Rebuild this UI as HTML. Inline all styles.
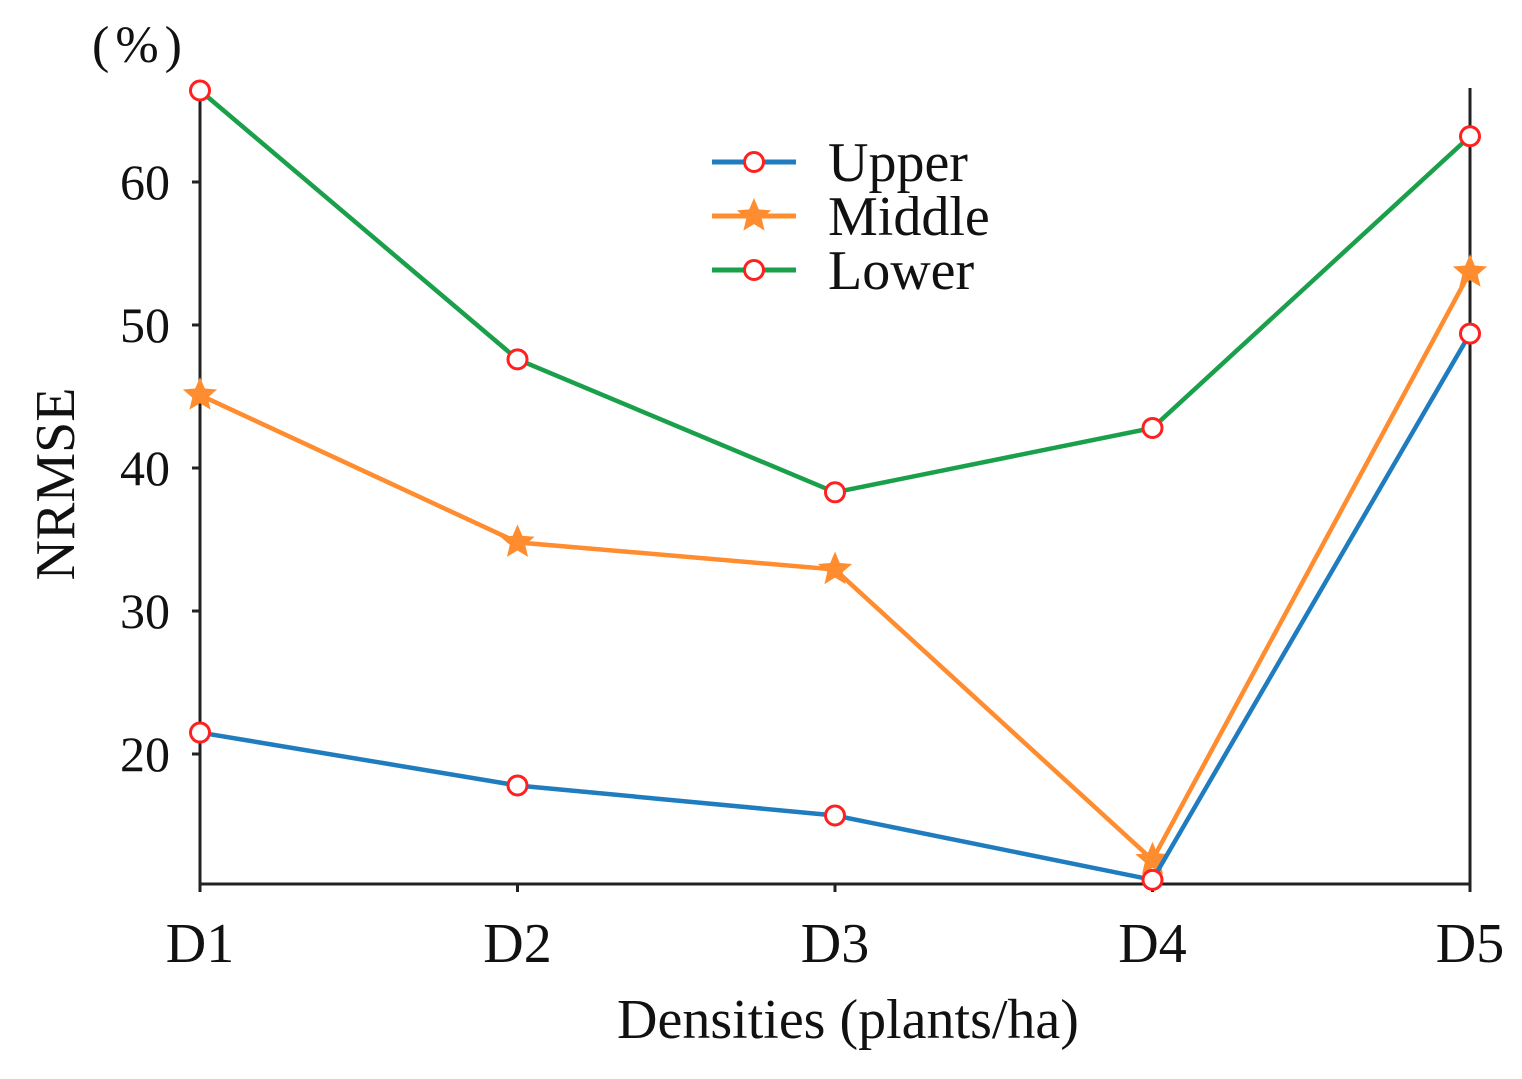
<!DOCTYPE html>
<html><head><meta charset="utf-8"><style>
html,body{margin:0;padding:0;background:#fff;}
svg{display:block;font-family:"Liberation Serif",serif;}
</style></head><body>
<svg id="chart" width="1522" height="1079" viewBox="0 0 1522 1079">
<g id="axes"></g><g id="series"></g><g id="legend"></g>
</svg>
<script>
const categories = ["D1","D2","D3","D4","D5"];
const upper = [21.5, 17.8, 15.7, 11.2, 49.4];
const middle = [45.1, 34.8, 32.9, 12.6, 53.7];
const lower = [66.4, 47.6, 38.3, 42.8, 63.2];
const yTicks = [20, 30, 40, 50, 60];
const seriesNames = ["Upper","Middle","Lower"];

const NS = "http://www.w3.org/2000/svg";
const X0 = 200, X1 = 1470, YTOP = 88, YBOT = 884;
function xPos(i){ return X0 + i * (X1 - X0) / (categories.length - 1); }
function yPos(v){ return 182 + (60 - v) * 14.3; }
function mk(tag, attrs, parent){ const e = document.createElementNS(NS, tag); for (const k in attrs) e.setAttribute(k, attrs[k]); parent.appendChild(e); return e; }

const axes = document.getElementById("axes");
const spine = mk("path", {d:`M${X0},${YTOP} V${YBOT} H${X1} V${YTOP}`, fill:"none", stroke:"#222", "stroke-width":3}, axes);


yTicks.forEach(v => {
  const y = yPos(v);
  const t = mk("line", {x1:X0-8, x2:X0, y1:y, y2:y, stroke:"#222", "stroke-width":3}, axes);
  
  
  const l = mk("text", {x:X0-30, y:y+17, "text-anchor":"end", "font-size":50, fill:"#111"}, axes);
  l.textContent = v;
  
  
});
categories.forEach((c, i) => {
  const x = xPos(i);
  const t = mk("line", {x1:x, x2:x, y1:YBOT, y2:YBOT+8, stroke:"#222", "stroke-width":3}, axes);
  
  
  const l = mk("text", {x:x, y:962, "text-anchor":"middle", "font-size":56, fill:"#111"}, axes);
  l.textContent = c;
  
  
});
const xt = mk("text", {x:848, y:1038, "text-anchor":"middle", "font-size":56, fill:"#111"}, axes);
xt.textContent = "Densities (plants/ha)";


const yt = mk("text", {x:0, y:0, transform:"translate(74,484) rotate(-90)", "text-anchor":"middle", "font-size":56, fill:"#111"}, axes);
yt.textContent = "NRMSE";


const un = mk("text", {x:92, y:62, "font-size":52, "letter-spacing":6, fill:"#111"}, axes);
un.textContent = "(%)";



function star(cx, cy, r){
  let p = [];
  for (let k = 0; k < 10; k++){ const a = -Math.PI/2 + k*Math.PI/5; const rr = k%2 ? r*0.45 : r; p.push((cx+rr*Math.cos(a)).toFixed(1)+","+(cy+rr*Math.sin(a)).toFixed(1)); }
  return p.join(" ");
}
const sg = document.getElementById("series");
const defs = [[lower,"#1aa04a","circle","lower"],[middle,"#ff8c2e","star","middle"],[upper,"#1f7dbf","circle","upper"]];
defs.forEach(([vals, col, m, nm]) => {
  const pl = mk("polyline", {points: vals.map((v,i)=>xPos(i)+","+yPos(v)).join(" "), fill:"none", stroke:col, "stroke-width":4.5}, sg);
  
  
  vals.forEach((v,i) => {
    let e;
    if (m === "circle") e = mk("circle", {cx:xPos(i), cy:yPos(v), r:9.5, fill:"#fff", stroke:"#ff2020", "stroke-width":3}, sg);
    else e = mk("polygon", {points: star(xPos(i), yPos(v), 18), fill:"#ff8c2e"}, sg);
    
    
  });
});

const lg = document.getElementById("legend");
[["#1f7dbf","circle",162],["#ff8c2e","star",216],["#1aa04a","circle",270]].forEach(([col,m,y],k) => {
  const ln = mk("line", {x1:712, x2:796, y1:y, y2:y, stroke:col, "stroke-width":5}, lg);
  
  
  let e;
  if (m === "circle") e = mk("circle", {cx:754, cy:y, r:9.5, fill:"#fff", stroke:"#ff2020", "stroke-width":3}, lg);
  else e = mk("polygon", {points: star(754, y, 18), fill:"#ff8c2e"}, lg);
  
  
  const t = mk("text", {x:828, y:y+19, "font-size":56, fill:"#111"}, lg);
  t.textContent = seriesNames[k];
  
  
});
</script>
</body></html>
